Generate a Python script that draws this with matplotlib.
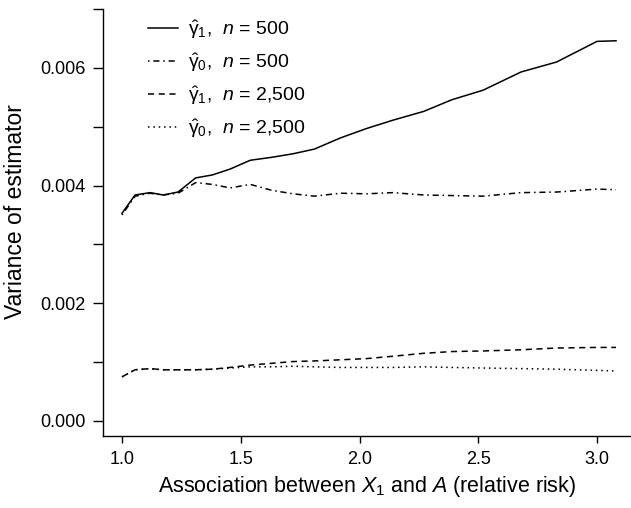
import matplotlib
matplotlib.use('Agg')
import matplotlib.pyplot as plt

plt.rcParams['font.family'] = ['Liberation Sans', 'DejaVu Sans']
plt.rcParams['mathtext.fontset'] = 'custom'
plt.rcParams['mathtext.rm'] = 'Liberation Sans'
plt.rcParams['mathtext.it'] = 'Liberation Sans:italic'
plt.rcParams['mathtext.bf'] = 'Liberation Sans:bold'

# relative risk grid (x axis)
relative_risk = [1.00, 1.055, 1.118, 1.173, 1.236, 1.31, 1.38, 1.455, 1.54, 1.63, 1.72,
                 1.81, 1.92, 2.03, 2.14, 2.27, 2.39, 2.52, 2.68, 2.83, 3.00, 3.08]

# variance of estimators
var_g1_n500 = [0.00353, 0.00384, 0.00388, 0.00384, 0.00389, 0.00413, 0.00418, 0.00428,
               0.00443, 0.00448, 0.00454, 0.00462, 0.00481, 0.00497, 0.00511, 0.00526,
               0.00546, 0.00562, 0.00593, 0.00610, 0.00645, 0.00646]
var_g0_n500 = [0.00350, 0.00382, 0.00387, 0.00384, 0.00387, 0.00405, 0.00402, 0.00396,
               0.00402, 0.00392, 0.00386, 0.00382, 0.00387, 0.00386, 0.00388, 0.00384,
               0.00383, 0.00382, 0.00388, 0.00389, 0.00394, 0.00393]
var_g1_n2500 = [0.00075, 0.00087, 0.00089, 0.00087, 0.00087, 0.00087, 0.00088, 0.00091,
                0.00095, 0.00098, 0.00101, 0.00102, 0.00104, 0.00106, 0.00110, 0.00115,
                0.00118, 0.00119, 0.00121, 0.00124, 0.00125, 0.00125]
var_g0_n2500 = [0.00075, 0.00087, 0.00089, 0.00087, 0.00087, 0.00087, 0.00088, 0.00090,
                0.00092, 0.00092, 0.00093, 0.00092, 0.00091, 0.00091, 0.00091, 0.00092,
                0.00091, 0.00090, 0.00089, 0.00088, 0.00086, 0.00085]

labels = [r'$\hat{\mathrm{\gamma}}_1$,  $n$ = 500',
          r'$\hat{\mathrm{\gamma}}_0$,  $n$ = 500',
          r'$\hat{\mathrm{\gamma}}_1$,  $n$ = 2,500',
          r'$\hat{\mathrm{\gamma}}_0$,  $n$ = 2,500']

fig = plt.figure(figsize=(6.31, 5.08), dpi=100)
ax = fig.add_axes([103 / 631, 72 / 508, 528 / 631, 427 / 508])

ax.plot(relative_risk, var_g1_n500, color='black', lw=1.1, label=labels[0])
ax.plot(relative_risk, var_g0_n500, color='black', lw=1.1, dashes=(1, 2.5, 4, 2.5), label=labels[1])
ax.plot(relative_risk, var_g1_n2500, color='black', lw=1.1, dashes=(4, 3), label=labels[2])
ax.plot(relative_risk, var_g0_n2500, color='black', lw=1.1, dashes=(1, 2.5), label=labels[3])

ax.set_xlim(0.92, 3.143)
ax.set_ylim(-0.000255, 0.007)
ax.set_xticks([1.0, 1.5, 2.0, 2.5, 3.0])
ax.set_xticklabels(['1.0', '1.5', '2.0', '2.5', '3.0'])
ax.set_yticks([0.000, 0.001, 0.002, 0.003, 0.004, 0.005, 0.006, 0.007])
ax.set_yticklabels(['0.000', '', '0.002', '', '0.004', '', '0.006', ''])

ax.spines['top'].set_visible(False)
ax.spines['right'].set_visible(False)
for s in ax.spines.values():
    s.set_linewidth(1.0)
ax.tick_params(axis='x', length=5, width=1.0, pad=6, labelsize=13)
ax.tick_params(axis='y', length=7, width=1.0, pad=5.5, labelsize=13)

ax.set_xlabel(r'Association between $X_1$ and $A$ (relative risk)', fontsize=15.5, labelpad=4)
ax.set_ylabel('Variance of estimator', fontsize=16.5)
ax.yaxis.set_label_coords(-0.144, 0.525)

ax.legend(loc='upper left', bbox_to_anchor=(0.085, 0.979), frameon=False, fontsize=14,
          handlelength=1.54, handletextpad=0.51, labelspacing=0.52,
          borderpad=0, borderaxespad=0)

fig.savefig('out.png', dpi=100)
